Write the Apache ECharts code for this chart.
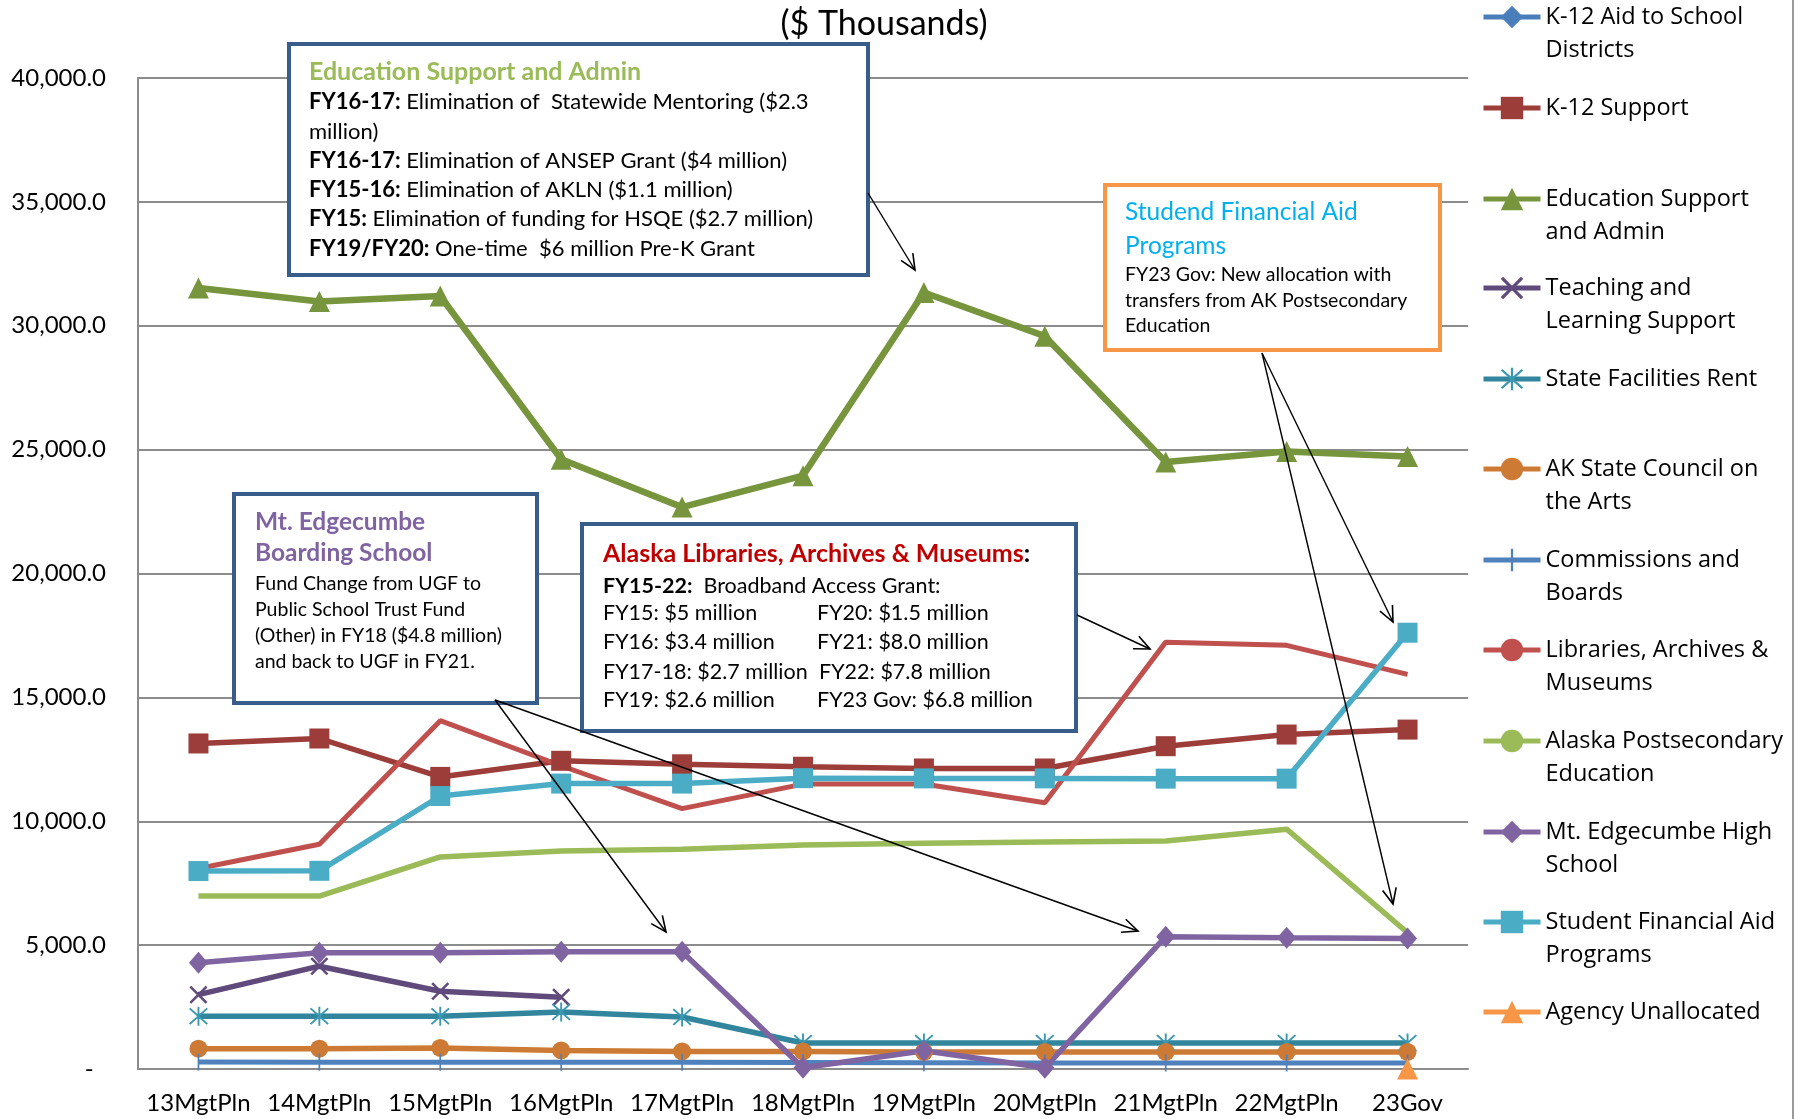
<!DOCTYPE html>
<html><head><meta charset="utf-8">
<script src="https://cdn.jsdelivr.net/npm/echarts@6/dist/echarts.min.js"></script>
<style>html,body{margin:0;padding:0;background:#fff}#c{width:1801px;height:1119px}</style>
</head><body><div id="c"></div>
<script>
// ---- data ($ thousands) ----
const categories = ['13MgtPln','14MgtPln','15MgtPln','16MgtPln','17MgtPln','18MgtPln','19MgtPln','20MgtPln','21MgtPln','22MgtPln','23Gov'];
const yTicks = [0, 5000, 10000, 15000, 20000, 25000, 30000, 35000, 40000];
const k12Aid         = [null, null, null, null, null, null, null, null, null, null, null];
const k12Support     = [13140, 13340, 11790, 12440, 12300, 12200, 12130, 12130, 13030, 13500, 13700];
const eduSupport     = [31520, 30980, 31200, 24610, 22680, 23950, 31340, 29580, 24500, 24920, 24720];
const teaching       = [3000, 4150, 3140, 2900, null, null, null, null, null, null, null];
const facilitiesRent = [2130, 2130, 2130, 2300, 2100, 1050, 1050, 1050, 1050, 1050, 1050];
const artsCouncil    = [820, 820, 850, 750, 710, 710, 690, 690, 690, 690, 690];
const commissions    = [280, 270, 270, 270, 270, 260, 250, 240, 240, 240, 240];
const libraries      = [8090, 9070, 14060, 12240, 10510, 11500, 11500, 10750, 17230, 17100, 15930];
const postsecondary  = [6980, 6980, 8560, 8800, 8870, 9040, 9110, 9160, 9200, 9680, 5500];
const mtEdgecumbe    = [4290, 4690, 4690, 4730, 4730, 50, 740, 50, 5340, 5300, 5270];
const studentAid     = [7990, 8000, 11020, 11520, 11520, 11740, 11730, 11730, 11720, 11720, 17610];
const unallocated    = [null, null, null, null, null, null, null, null, null, null, 0];

const FONT = 'Lato';
const LFONT = 'Open Sans';
const SYM_X = 'path://M0,2 L2,0 L20,18 L18,20 Z M18,0 L20,2 L2,20 L0,18 Z';
const SYM_STAR = 'path://M9.1,0 L10.9,0 L10.9,20 L9.1,20 Z M1,2.3 L2.3,1 L19,17.7 L17.7,19 Z M17.7,1 L19,2.3 L2.3,19 L1,17.7 Z';
const SYM_TICK = 'path://M0,0 L0.01,0 L0,0.01 Z M9,0 L11,0 L11,20 L9,20 Z M20,20 L19.99,20 L20,19.99 Z';

function mk(name, data, color, symbol, size, width, markerColor) {
  return {
    name, type: 'line', data,
    symbol: symbol, symbolSize: size, showSymbol: symbol !== 'none', showAllSymbol: true,
    connectNulls: false,
    lineStyle: { color, width },
    itemStyle: { color: markerColor || color, borderWidth: 0 },
    emphasis: { disabled: true }
  };
}

const series = [
  mk('K-12 Aid to School Districts', k12Aid, '#4A7EBB', 'diamond', [18, 20], 5.5),
  mk('K-12 Support', k12Support, '#9C3D3A', 'rect', 20, 5.5),
  mk('Education Support and Admin', eduSupport, '#77953D', 'triangle', 21, 6.5),
  mk('Teaching and Learning Support', teaching, '#604A7B', SYM_X, 18, 5.5),
  mk('State Facilities Rent', facilitiesRent, '#31859C', SYM_STAR, 19, 5.5, '#3B98B2'),
  mk('AK State Council on the Arts', artsCouncil, '#CD7A34', 'circle', 18, 5.5),
  mk('Commissions and Boards', commissions, '#4F81BD', SYM_TICK, 17, 5),
  mk('Libraries, Archives & Museums', libraries, '#C0504D', 'none', 0, 5),
  mk('Alaska Postsecondary Education', postsecondary, '#9BBB59', 'none', 0, 5.5),
  mk('Mt. Edgecumbe High School', mtEdgecumbe, '#8064A2', 'diamond', [19, 22], 5.5),
  mk('Student Financial Aid Programs', studentAid, '#4BACC6', 'rect', 20, 5.5),
  mk('Agency Unallocated', unallocated, '#F79646', 'triangle', 21, 5.5)
];

// legend: one component per entry so positions follow the reference
const legendLabels = {
  'K-12 Aid to School Districts': 'K-12 Aid to School\nDistricts',
  'K-12 Support': 'K-12 Support',
  'Education Support and Admin': 'Education Support\nand Admin',
  'Teaching and Learning Support': 'Teaching and\nLearning Support',
  'State Facilities Rent': 'State Facilities Rent',
  'AK State Council on the Arts': 'AK State Council on\nthe Arts',
  'Commissions and Boards': 'Commissions and\nBoards',
  'Libraries, Archives & Museums': 'Libraries, Archives &\nMuseums',
  'Alaska Postsecondary Education': 'Alaska Postsecondary\nEducation',
  'Mt. Edgecumbe High School': 'Mt. Edgecumbe High\nSchool',
  'Student Financial Aid Programs': 'Student Financial Aid\nPrograms',
  'Agency Unallocated': 'Agency Unallocated'
};
const legendCenters = [17, 108, 199, 288, 379, 469, 560, 650, 741, 832, 922, 1012];
const LH = 33;
const legends = series.map((s, i) => {
  const label = legendLabels[s.name];
  const two = label.indexOf('\n') >= 0;
  // a blank first line keeps the icon level with the first text line
  const shown = two ? ' \n' + label : label;
  return {
    show: true, orient: 'vertical', left: 1481,
    top: legendCenters[i] - (two ? LH * 1.5 : LH / 2),
    padding: 0, itemGap: 0, itemWidth: 57, itemHeight: 28,
    selectedMode: false, data: [s.name],
    formatter: () => shown,
    lineStyle: { width: 5 },
    textStyle: { fontFamily: LFONT, fontSize: 23.5, color: '#000', lineHeight: LH }
  };
});

// ---- annotations ----
function box(x, y, w, h, stroke) {
  return { type: 'rect', z: 100, shape: { x, y, width: w, height: h },
    style: { fill: '#fff', stroke, lineWidth: 4 } };
}
function txt(x, y, text, size, color, weight, rich) {
  return { type: 'text', z: 101, x, y,
    style: { text, fontFamily: FONT, fontSize: size, fontWeight: weight || 'normal', fill: color || '#000',
      align: 'left', verticalAlign: 'middle', rich: rich || undefined } };
}
function arrow(x1, y1, x2, y2) {
  const a = Math.atan2(y2 - y1, x2 - x1), L = 17, s = 0.42;
  return [
    { type: 'line', z: 102, shape: { x1, y1, x2, y2 }, style: { stroke: '#000', lineWidth: 1.4 } },
    { type: 'polyline', z: 102, shape: { points: [
        [x2 - L * Math.cos(a - s), y2 - L * Math.sin(a - s)], [x2, y2],
        [x2 - L * Math.cos(a + s), y2 - L * Math.sin(a + s)]] },
      style: { stroke: '#000', lineWidth: 1.6, fill: null } }
  ];
}
const B = { b: { fontWeight: 'bold', fontFamily: FONT, fontSize: 22 } };
const B21 = { b: { fontWeight: 'bold', fontFamily: FONT, fontSize: 21.5 } };
const R = { r: { fontWeight: 'bold', fontFamily: FONT, fontSize: 25, fill: '#C00000' },
            k: { fontWeight: 'bold', fontFamily: FONT, fontSize: 25, fill: '#000' } };

const graphics = [
  { type: 'line', z: 90, shape: { x1: 1793, y1: 0, x2: 1793, y2: 1119 }, style: { stroke: '#9A9A9A', lineWidth: 2 } },
  { type: 'text', z: 101, x: 884, y: 24, style: { text: '($ Thousands)', fontFamily: FONT, fontSize: 34, fill: '#000', align: 'center', verticalAlign: 'middle' } },

  box(289, 44, 579, 231, '#385D8A'),
  txt(309, 72, 'Education Support and Admin', 25, '#9BBB59', 'bold'),
  txt(309, 102, '{b|FY16-17:} Elimination of  Statewide Mentoring ($2.3', 22, '#000', 'normal', B),
  txt(309, 132, 'million)', 22, '#000'),
  txt(309, 161, '{b|FY16-17:} Elimination of ANSEP Grant ($4 million)', 22, '#000', 'normal', B),
  txt(309, 190, '{b|FY15-16:} Elimination of AKLN ($1.1 million)', 22, '#000', 'normal', B),
  txt(309, 219, '{b|FY15:} Elimination of funding for HSQE ($2.7 million)', 22, '#000', 'normal', B),
  txt(309, 249, '{b|FY19/FY20:} One-time  $6 million Pre-K Grant', 22, '#000', 'normal', B),

  box(234, 494, 303, 209, '#385D8A'),
  txt(255, 522, 'Mt. Edgecumbe', 24.5, '#8064A2', 'bold'),
  txt(255, 553, 'Boarding School', 24.5, '#8064A2', 'bold'),
  txt(255, 584, 'Fund Change from UGF to', 19.5, '#000'),
  txt(255, 610, 'Public School Trust Fund', 19.5, '#000'),
  txt(255, 636, '(Other) in FY18 ($4.8 million)', 19.5, '#000'),
  txt(255, 662, 'and back to UGF in FY21.', 19.5, '#000'),

  box(582, 524, 494, 207, '#385D8A'),
  txt(603, 554, '{r|Alaska Libraries, Archives & Museums}{k|:}', 25, '#000', 'bold', R),
  txt(603, 586, '{b|FY15-22:}  Broadband Access Grant:', 21.5, '#000', 'normal', B21),
  txt(603, 613, 'FY15: $5 million', 21.5, '#000'),
  txt(603, 642, 'FY16: $3.4 million', 21.5, '#000'),
  txt(603, 672, 'FY17-18: $2.7 million', 21.5, '#000'),
  txt(603, 700, 'FY19: $2.6 million', 21.5, '#000'),
  txt(817, 613, 'FY20: $1.5 million', 21.5, '#000'),
  txt(817, 642, 'FY21: $8.0 million', 21.5, '#000'),
  txt(819, 672, 'FY22: $7.8 million', 21.5, '#000'),
  txt(817, 700, 'FY23 Gov: $6.8 million', 21.5, '#000'),

  box(1105, 185, 335, 165, '#F79646'),
  txt(1125, 212, 'Studend Financial Aid', 24.5, '#00B0F0'),
  txt(1125, 246, 'Programs', 24.5, '#00B0F0'),
  txt(1125, 275, 'FY23 Gov: New allocation with', 19.5, '#000'),
  txt(1125, 301, 'transfers from AK Postsecondary', 19.5, '#000'),
  txt(1125, 326, 'Education', 19.5, '#000'),

  ...arrow(868, 193, 915, 270),
  ...arrow(495, 700, 666, 932),
  ...arrow(495, 700, 1138, 931),
  ...arrow(1077, 615, 1150, 649),
  ...arrow(1262, 353, 1393, 622),
  ...arrow(1262, 353, 1393, 904)
];

const chart = echarts.init(document.getElementById('c'), null, { renderer: 'canvas' });
chart.setOption({
  animation: false,
  backgroundColor: '#fff',
  grid: { left: 138, right: 333, top: 78, bottom: 50, containLabel: false },
  legend: legends,
  xAxis: {
    type: 'category', data: categories, boundaryGap: true,
    axisLine: { show: true, lineStyle: { color: '#8C8C8C', width: 2 } },
    axisTick: { show: false },
    axisLabel: { fontFamily: FONT, fontSize: 24, color: '#000', margin: 22, interval: 0 }
  },
  yAxis: {
    type: 'value', min: yTicks[0], max: yTicks[yTicks.length - 1], interval: yTicks[1] - yTicks[0],
    axisLine: { show: true, lineStyle: { color: '#8C8C8C', width: 2 } },
    axisTick: { show: false },
    splitLine: { show: true, lineStyle: { color: '#8C8C8C', width: 2 } },
    axisLabel: { fontFamily: FONT, fontSize: 24, color: '#000', margin: 32,
      formatter: v => v === 0 ? '-  ' : v.toLocaleString('en-US', { minimumFractionDigits: 1, maximumFractionDigits: 1 }) }
  },
  series,
  graphic: graphics
});
</script></body></html>
